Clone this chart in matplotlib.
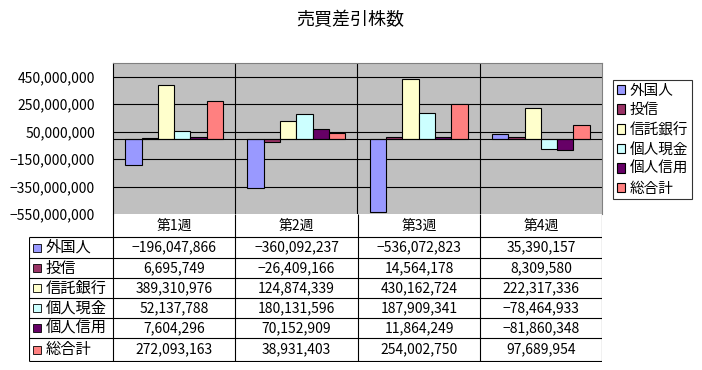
import numpy as np
import matplotlib
matplotlib.use("Agg")
import matplotlib.pyplot as plt
from matplotlib.patches import Rectangle

plt.rcParams['font.family'] = ['Noto Sans CJK JP', 'DejaVu Sans']

# data
weeks = ["第1週", "第2週", "第3週", "第4週"]
series_names = ["外国人", "投信", "信託銀行", "個人現金", "個人信用", "総合計"]
foreign = [-196047866, -360092237, -536072823, 35390157]
trusts = [6695749, -26409166, 14564178, 8309580]
trust_banks = [389310976, 124874339, 430162724, 222317336]
indiv_cash = [52137788, 180131596, 187909341, -78464933]
indiv_margin = [7604296, 70152909, 11864249, -81860348]
total = [272093163, 38931403, 254002750, 97689954]
colors = ["#9999FF", "#993366", "#FFFFCC", "#CCFFFF", "#660066", "#FF8080"]
yticks = [450000000, 250000000, 50000000, -150000000, -350000000, -550000000]

series = [foreign, trusts, trust_banks, indiv_cash, indiv_margin, total]

W, H = 702, 370
fig = plt.figure(figsize=(W / 100, H / 100), dpi=100)


def px_axes(x0, y0, x1, y1):
    # pixel box (top-left origin) -> figure axes
    return fig.add_axes([x0 / W, 1 - y1 / H, (x1 - x0) / W, (y1 - y0) / H])


fig.text(350 / W, 1 - 20 / H, "売買差引株数", ha="center", va="center", fontsize=13)

# chart area
ax = px_axes(113, 63, 602, 214)
ax.set_facecolor("#C0C0C0")
x = np.arange(len(weeks))
bw = 0.8 / len(series)
for i, (vals, c) in enumerate(zip(series, colors)):
    ax.bar(x - 0.4 + bw * (i + 0.5), vals, bw, color=c, edgecolor="black",
           linewidth=0.8, zorder=3, label=series_names[i])
ax.set_xlim(-0.5, len(weeks) - 0.5)
ax.set_ylim(-550000000, 550000000)
ax.set_yticks(yticks)
ax.set_yticklabels([f"{v:,}".replace("-", "\u2212") for v in yticks], fontsize=10)
ax.tick_params(axis="y", length=0, pad=13)
ax.set_xticks([])
for v in yticks[:-1]:
    ax.axhline(v, color="black", linewidth=0.8, zorder=1)
ax.axhline(0, color="black", linewidth=0.8, zorder=4)
for k in range(1, len(weeks)):
    ax.axvline(k - 0.5, color="black", linewidth=0.8, zorder=1)
for s in ["top", "right"]:
    ax.spines[s].set_color("#808080")
ax.spines["left"].set_color("black")
ax.spines["bottom"].set_visible(False)

# data table below
tx = px_axes(29, 214, 602, 362)
tx.set_xlim(29, 602)
tx.set_ylim(362, 214)
tx.axis("off")
col_edges = [113, 235, 358, 480, 602]
row_edges = [214, 237, 258, 278, 298, 318, 338, 361]
lw = 0.8
tx.hlines([237], 29, 602, color="black", lw=lw)
for xe in col_edges:
    tx.vlines(xe, 214, 361, color="black", lw=lw)
tx.vlines(29, 237, 361, color="black", lw=lw)
for ye in row_edges[2:]:
    tx.hlines(ye, 29, 602, color="black", lw=lw)
for j, wk in enumerate(weeks):
    tx.text((col_edges[j] + col_edges[j + 1]) / 2, 226, wk, ha="center", va="center", fontsize=10)
for i, name in enumerate(series_names):
    yc = (row_edges[i + 1] + row_edges[i + 2]) / 2
    tx.add_patch(Rectangle((33, yc - 4), 8, 8, facecolor=colors[i], edgecolor="black", lw=0.6))
    tx.text(46, yc, name, ha="left", va="center", fontsize=11)
    for j in range(len(weeks)):
        tx.text((col_edges[j] + col_edges[j + 1]) / 2, yc,
                f"{series[i][j]:,}".replace("-", "\u2212"),
                ha="center", va="center", fontsize=10)

# legend
handles, labels = ax.get_legend_handles_labels()
leg = fig.legend(handles, labels, loc="upper left",
                 bbox_to_anchor=(613 / W, 1 - 80 / H), fontsize=10.5,
                 frameon=True, fancybox=False, edgecolor="black",
                 handlelength=0.6, handleheight=0.6, handletextpad=0.3,
                 labelspacing=0.38, borderpad=0.25, borderaxespad=0)
leg.get_frame().set_linewidth(0.8)

fig.savefig("out.png", dpi=100)
